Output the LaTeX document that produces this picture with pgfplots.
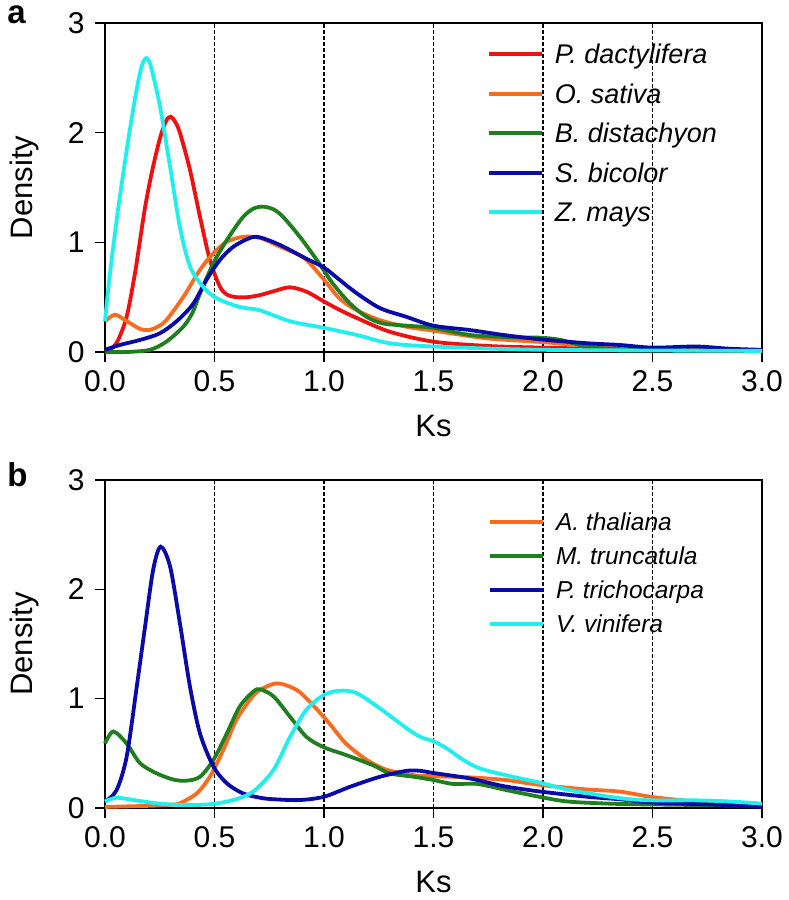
\documentclass[border=0pt]{standalone}
\usepackage{pgfplots}
\pgfplotsset{compat=1.18}
\usepackage{fontspec}
\setmainfont{Liberation Sans}
\definecolor{cred}{HTML}{EE1111}
\definecolor{corange}{HTML}{F96B1E}
\definecolor{cgreen}{HTML}{1F7F1F}
\definecolor{cblue}{HTML}{0A0AA8}
\definecolor{ccyan}{HTML}{22EEEE}
\pgfplotsset{
  myax/.style={
    scale only axis, width=657pt,
    xmin=0, xmax=3, ymin=0, ymax=3,
    xtick={0,0.5,1,1.5,2,2.5,3}, ytick={0,1,2,3},
    tick align=outside, tick pos=left, major tick length=10pt,
    xticklabel style={yshift=-5pt, /pgf/number format/.cd, fixed, fixed zerofill, precision=1},
    /pgf/number format/assume math mode=true,
    tick label style={font=\fontsize{30}{36}\selectfont},
    yticklabel style={xshift=-7pt},
    xmajorgrids, grid style={black, dash pattern=on 4pt off 2pt, line width=1.2pt},
    axis line style={line width=1.6pt},
    every tick/.style={black, line width=1.6pt},
    xlabel={Ks}, ylabel={Density},
    every axis x label/.style={at={(axis description cs:0.5,-0.258)}, anchor=base, font=\fontsize{31}{36}\selectfont},
    every axis y label/.style={at={(axis description cs:-0.1096,0.5)}, rotate=90, anchor=base, font=\fontsize{31}{36}\selectfont},
    clip=false,
    legend cell align=left,
    legend image code/.code={\draw[#1, line width=3.8pt] (0pt,0pt) -- (53pt,0pt);},
  },
  curve/.style={line width=3.8pt, smooth, tension=0.5},
}
\begin{document}
\begin{tikzpicture}
\useasboundingbox (-105pt,352pt) rectangle (683pt,-548pt);
\begin{axis}[myax, height=329pt, at={(0pt,0pt)}, anchor=south west,
  legend style={at={(axis cs:1.744,2.832)}, anchor=north west, draw=none, fill=none, inner sep=0pt,
    font=\fontsize{27}{30}\selectfont\itshape, column sep=11pt, row sep=14.5pt,
    nodes={inner sep=0pt, text height=22pt, text depth=3pt}}]
\addplot[cred, curve] coordinates {
(0,0) (0.03,0.03) (0.06,0.11) (0.10,0.33) (0.137,0.72) (0.16,1.02) (0.183,1.32) (0.213,1.63)
(0.251,1.95) (0.28,2.11) (0.30,2.145) (0.32,2.10) (0.342,2.00) (0.388,1.66) (0.434,1.23)
(0.479,0.84) (0.525,0.595) (0.56,0.52) (0.60,0.50) (0.65,0.50) (0.71,0.52) (0.78,0.56)
(0.845,0.59) (0.92,0.55) (1.0,0.46) (1.07,0.385) (1.15,0.31) (1.3,0.185) (1.5,0.094)
(1.75,0.055) (2.0,0.04) (2.5,0.02) (3.0,0.01)};
\addlegendentry{P. dactylifera}
\addplot[corange, curve] coordinates {
(0,0.28) (0.046,0.34) (0.10,0.28) (0.16,0.21) (0.20,0.20) (0.24,0.23) (0.28,0.29)
(0.357,0.50) (0.434,0.75) (0.495,0.90) (0.556,1.005) (0.63,1.05) (0.708,1.04) (0.80,0.96)
(0.87,0.90) (0.92,0.84) (1.0,0.66) (1.07,0.49) (1.15,0.38) (1.256,0.29) (1.377,0.23)
(1.5,0.195) (1.74,0.125) (2.0,0.09) (2.25,0.05) (2.5,0.03) (3.0,0.01)};
\addlegendentry{O. sativa}
\addplot[cgreen, curve] coordinates {
(0,0.0) (0.1,0.0) (0.205,0.02) (0.28,0.094) (0.357,0.23) (0.40,0.36) (0.434,0.535)
(0.495,0.81) (0.556,1.02) (0.63,1.23) (0.68,1.31) (0.723,1.325) (0.77,1.30) (0.814,1.23)
(0.89,1.05) (0.967,0.84) (1.04,0.625) (1.12,0.44) (1.195,0.32) (1.27,0.26) (1.377,0.24)
(1.5,0.22) (1.667,0.155) (1.85,0.135) (1.99,0.13) (2.08,0.11) (2.2,0.05) (2.3,0.03)
(2.5,0.02) (3.0,0.01)};
\addlegendentry{B. distachyon}
\addplot[cblue, curve] coordinates {
(0,0.02) (0.068,0.064) (0.16,0.11) (0.25,0.17) (0.327,0.28) (0.403,0.44) (0.464,0.66)
(0.525,0.84) (0.586,0.96) (0.662,1.04) (0.708,1.045) (0.80,0.975) (0.92,0.85) (1.0,0.77)
(1.07,0.66) (1.15,0.535) (1.256,0.40) (1.377,0.32) (1.5,0.24) (1.667,0.20) (1.82,0.155)
(1.99,0.115) (2.2,0.08) (2.35,0.064) (2.5,0.04) (2.7,0.05) (2.85,0.03) (3.0,0.02)};
\addlegendentry{S. bicolor}
\addplot[ccyan, curve] coordinates {
(0,0.28) (0.023,0.72) (0.061,1.32) (0.106,1.93) (0.145,2.40) (0.17,2.62) (0.19,2.68)
(0.21,2.60) (0.251,2.24) (0.297,1.69) (0.342,1.14) (0.388,0.78) (0.448,0.595) (0.51,0.49)
(0.616,0.41) (0.708,0.38) (0.845,0.28) (1.0,0.22) (1.15,0.155) (1.3,0.08) (1.5,0.05)
(2.0,0.02) (3.0,0.01)};
\addlegendentry{Z. mays}
\node[anchor=base west, inner sep=0pt, font=\fontsize{33}{38}\selectfont\bfseries] at (axis description cs:-0.149,0.997) {a};
\end{axis}
\begin{axis}[myax, height=328pt, at={(0pt,-456pt)}, anchor=south west,
  legend style={at={(axis cs:1.749,2.726)}, anchor=north west, draw=none, fill=none, inner sep=0pt,
    font=\fontsize{24.5}{28}\selectfont\itshape, column sep=11pt, row sep=10.5pt,
    nodes={inner sep=0pt, text height=20pt, text depth=3.5pt}}]
\addplot[corange, curve] coordinates {
(0,0.01) (0.2,0.02) (0.3,0.03) (0.342,0.043) (0.419,0.134) (0.479,0.286) (0.54,0.53)
(0.60,0.805) (0.662,0.99) (0.70,1.07) (0.784,1.14) (0.875,1.08) (0.95,0.94) (1.03,0.76)
(1.10,0.59) (1.195,0.44) (1.286,0.35) (1.41,0.30) (1.5,0.29) (1.667,0.28) (1.83,0.256)
(1.99,0.21) (2.2,0.17) (2.35,0.15) (2.5,0.10) (2.7,0.06) (3.0,0.03)};
\addlegendentry{A. thaliana}
\addplot[cgreen, curve] coordinates {
(0,0.59) (0.038,0.70) (0.099,0.59) (0.16,0.41) (0.236,0.317) (0.312,0.26) (0.373,0.25)
(0.434,0.286) (0.495,0.44) (0.556,0.68) (0.616,0.93) (0.677,1.064) (0.708,1.086) (0.77,1.02)
(0.845,0.835) (0.92,0.65) (1.0,0.555) (1.10,0.485) (1.225,0.39) (1.30,0.317) (1.41,0.286)
(1.5,0.256) (1.59,0.22) (1.70,0.22) (1.83,0.165) (1.99,0.10) (2.12,0.058) (2.35,0.037)
(2.6,0.03) (3.0,0.02)};
\addlegendentry{M. truncatula}
\addplot[cblue, curve] coordinates {
(0,0.058) (0.053,0.165) (0.099,0.47) (0.145,1.11) (0.183,1.66) (0.22,2.18) (0.254,2.39)
(0.297,2.21) (0.342,1.69) (0.388,1.11) (0.434,0.68) (0.495,0.38) (0.556,0.226) (0.63,0.134)
(0.708,0.094) (0.77,0.08) (0.89,0.073) (1.0,0.103) (1.12,0.195) (1.256,0.286) (1.377,0.34)
(1.44,0.34) (1.5,0.32) (1.667,0.27) (1.82,0.20) (1.99,0.15) (2.2,0.103) (2.35,0.08)
(2.5,0.05) (2.8,0.03) (3.0,0.01)};
\addlegendentry{P. trichocarpa}
\addplot[ccyan, curve] coordinates {
(0,0.06) (0.053,0.094) (0.13,0.073) (0.236,0.043) (0.357,0.027) (0.479,0.034) (0.586,0.073)
(0.677,0.15) (0.77,0.35) (0.845,0.65) (0.92,0.90) (1.0,1.034) (1.073,1.073) (1.15,1.05)
(1.256,0.91) (1.377,0.73) (1.44,0.65) (1.5,0.61) (1.56,0.546) (1.636,0.44) (1.71,0.363)
(1.83,0.30) (1.99,0.23) (2.12,0.165) (2.35,0.09) (2.5,0.07) (2.7,0.07) (2.85,0.06) (3.0,0.04)};
\addlegendentry{V. vinifera}
\node[anchor=base west, inner sep=0pt, font=\fontsize{33}{38}\selectfont\bfseries] at (axis description cs:-0.149,0.979) {b};
\end{axis}
\end{tikzpicture}
\end{document}
